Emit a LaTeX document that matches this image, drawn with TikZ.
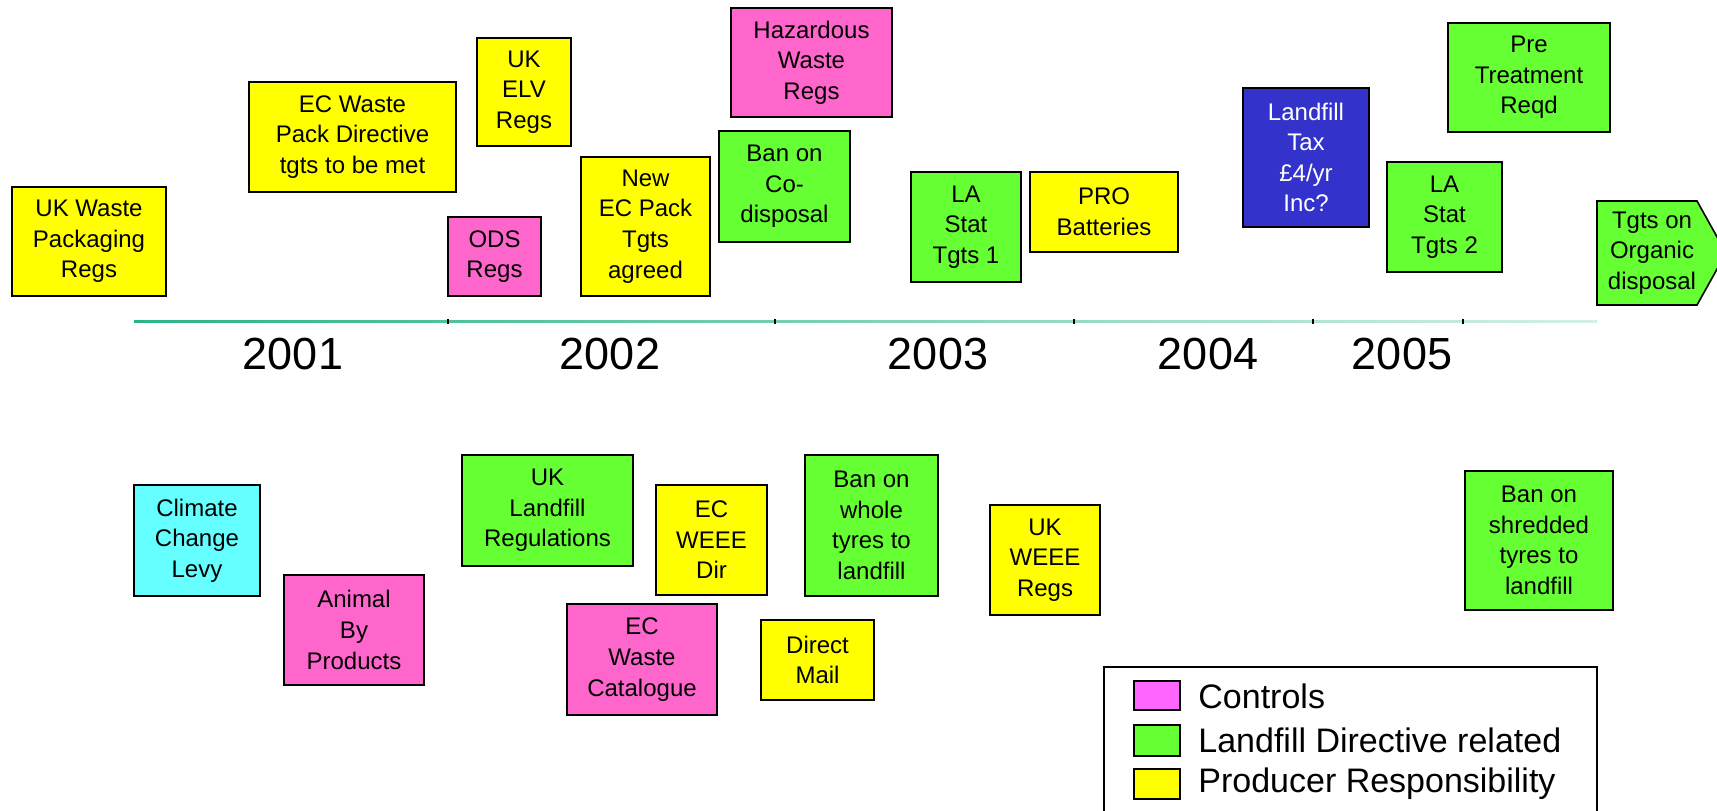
\documentclass[tikz,border=0pt]{standalone}
\usepackage{fontspec}
\setmainfont{Liberation Sans}
\definecolor{cyel}{HTML}{FFFF00}
\definecolor{cpink}{HTML}{FF66CC}
\definecolor{cmag}{HTML}{FF66FF}
\definecolor{cgreen}{HTML}{66FF33}
\definecolor{ccyan}{HTML}{66FFFF}
\definecolor{cblue}{HTML}{3333CC}
\definecolor{axisA}{HTML}{2BB38A}
\definecolor{axisB}{HTML}{D2F0E6}
\tikzset{
  box/.style={draw=black, line width=0.8pt, align=center, inner sep=0pt,
    font=\fontsize{12}{15.3}\selectfont, text=black},
  yel/.style={box, fill=cyel},
  pnk/.style={box, fill=cpink},
  grn/.style={box, fill=cgreen},
  year/.style={font=\fontsize{22.5}{26}\selectfont, inner sep=0pt},
  legtxt/.style={font=\fontsize{17}{20}\selectfont, anchor=west, inner sep=0pt},
  swatch/.style={draw=black, line width=0.8pt}
}
\begin{document}
\begin{tikzpicture}[x=0.5pt,y=-0.5pt]
\useasboundingbox (0,0) rectangle (1717,810);
\clip (0,0) rectangle (1717,810);
% axis
\shade[left color=axisA, right color=axisB] (134,320) rectangle (1597,322.5);
\foreach \tx in {448,775,1074,1313,1463}
  \draw[line width=0.6pt] (\tx,319) -- (\tx,323.5);
\node[year] (y2001) at (293,354) {2001};
\node[year] (y2002) at (610,354) {2002};
\node[year] (y2003) at (938,354) {2003};
\node[year] (y2004) at (1208,354) {2004};
\node[year] (y2005) at (1402,354) {2005};
% top row
\node[yel, minimum width=77pt, minimum height=54.5pt] (ukwp) at (89,241.5) {UK Waste\\Packaging\\Regs};
\node[yel, minimum width=103.5pt, minimum height=55pt] (ecwp) at (352.5,137) {EC Waste\\Pack Directive\\tgts to be met};
\node[yel, minimum width=47pt, minimum height=54pt] (ukelv) at (524,92) {UK\\ELV\\Regs};
\node[pnk, minimum width=46.5pt, minimum height=39.5pt] (ods) at (494.5,256.5) {ODS\\Regs};
\node[yel, minimum width=64.5pt, minimum height=69.5pt] (newec) at (645.5,226.5) {New\\EC Pack\\Tgts\\agreed};
\node[pnk, minimum width=80.5pt, minimum height=54.5pt] (haz) at (811.5,62.5) {Hazardous\\Waste\\Regs};
\node[grn, minimum width=65.5pt, minimum height=55.5pt] (bancod) at (784.5,186.5) {Ban on\\Co-\\disposal};
\node[grn, minimum width=55pt, minimum height=55pt] (lastat1) at (966,227) {LA\\Stat\\Tgts 1};
\node[yel, minimum width=74pt, minimum height=40pt] (pro) at (1104,212) {PRO\\Batteries};
\node[box, fill=cblue, text=white, minimum width=63pt, minimum height=69.5pt] (ltax) at (1306,157.5) {Landfill\\Tax\\£4/yr\\Inc?};
\node[grn, minimum width=81pt, minimum height=54.5pt] (pre) at (1529,77.5) {Pre\\Treatment\\Reqd};
\node[grn, minimum width=57.5pt, minimum height=55pt] (lastat2) at (1444.5,217) {LA\\Stat\\Tgts 2};
\draw[line width=0.8pt, fill=cgreen] (1597,201) -- (1697,201) -- (1726,253) -- (1697,305) -- (1597,305) -- cycle;
\node[box, draw=none, fill=none] (tgts) at (1652,253) {Tgts on\\Organic\\disposal};
% bottom row
\node[box, fill=ccyan, minimum width=63pt, minimum height=55.5pt] (ccl) at (197,540.5) {Climate\\Change\\Levy};
\node[pnk, minimum width=70pt, minimum height=55pt] (abp) at (354,630) {Animal\\By\\Products};
\node[grn, minimum width=85.5pt, minimum height=55.5pt] (ukland) at (547.5,510.5) {UK\\Landfill\\Regulations};
\node[yel, minimum width=55.5pt, minimum height=55pt] (ecweee) at (711.5,540) {EC\\WEEE\\Dir};
\node[pnk, minimum width=75pt, minimum height=55.5pt] (ecwc) at (642,659.5) {EC\\Waste\\Catalogue};
\node[grn, minimum width=66.5pt, minimum height=70.5pt] (banwhole) at (871.5,525.5) {Ban on\\whole\\tyres to\\landfill};
\node[yel, minimum width=56.5pt, minimum height=40pt] (dmail) at (817.5,660) {Direct\\Mail};
\node[yel, minimum width=55pt, minimum height=55pt] (ukweee) at (1045,560) {UK\\WEEE\\Regs};
\node[grn, minimum width=74pt, minimum height=69.5pt] (banshred) at (1539,540.5) {Ban on\\shredded\\tyres to\\landfill};
% legend
\draw[line width=0.8pt, fill=white] (1104,667) rectangle (1597,830);
\draw[swatch, fill=cmag] (1134,681) rectangle (1180,710);
\draw[swatch, fill=cgreen] (1134,725) rectangle (1180,756);
\draw[swatch, fill=cyel] (1134,769) rectangle (1180,799);
\node[legtxt] (lc) at (1198,696) {Controls};
\node[legtxt] (ll) at (1198,740) {Landfill Directive related};
\node[legtxt] (lp) at (1198,784) {Producer Responsibility};
\end{tikzpicture}
\end{document}
